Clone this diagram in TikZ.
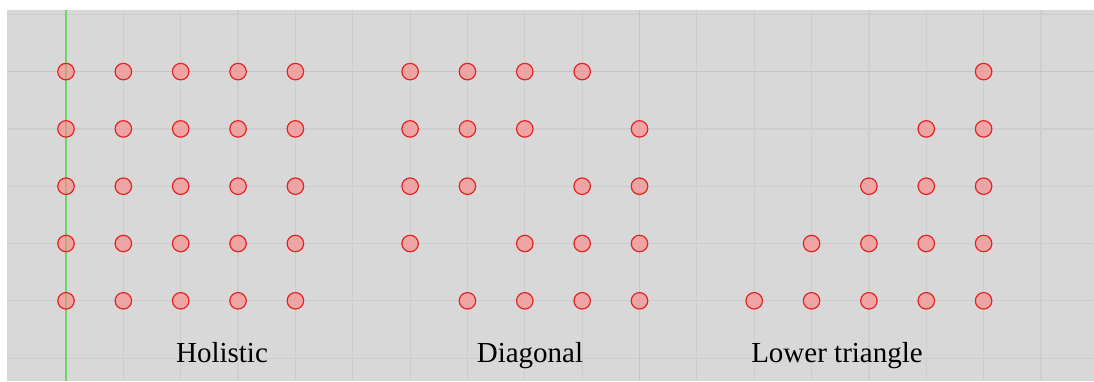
\documentclass[tikz,border=0pt]{standalone}
\usepackage{fontspec}
\setmainfont{Liberation Serif}
\definecolor{bg}{RGB}{216,216,216}
\definecolor{gridc}{RGB}{206,206,206}
\definecolor{gridd}{RGB}{198,198,198}
\definecolor{axisg}{RGB}{105,214,95}
\definecolor{dotfill}{RGB}{255,135,135}
\definecolor{dotline}{RGB}{228,35,35}
\begin{document}
\begin{tikzpicture}[x=1pt,y=-1pt,
  gridline/.style={gridc,line width=1.2pt},
  majorline/.style={gridd,line width=1.4pt},
  axisline/.style={axisg,line width=2.8pt},
  dot/.style={circle,draw=dotline,line width=1.2pt,fill=dotfill,fill opacity=0.62,draw opacity=1,minimum size=16.5pt,inner sep=0pt},
  lbl/.style={font=\fontsize{29}{34}\selectfont,anchor=base,text=black,inner sep=0pt}]
\useasboundingbox (0,0) rectangle (1094,381);
\fill[bg] (7,10) rectangle (1094,381);
% grid
\foreach \k in {0,...,17} \draw[gridline] ({66+57.35*\k},10) -- ({66+57.35*\k},381);
\foreach \k in {0,...,6} \draw[gridline] (7,{14.3+57.3*\k}) -- (1094,{14.3+57.3*\k});
\draw[majorline] (7,71.6) -- (1094,71.6);
\draw[majorline] ({66+57.35*10},10) -- ({66+57.35*10},381);
% axis
\coordinate (axtop) at (66,10);
\coordinate (axbot) at (66,381);
\draw[axisline] (axtop) -- (axbot);
% Holistic
\foreach \r in {1,...,5} \foreach \c in {1,...,5}
  \node[dot] (h\r\c) at ({66+57.35*(\c-1)},{14.3+57.3*\r}) {};
% Diagonal
\foreach \r in {1,...,5} \foreach \c in {1,...,5} {
  \ifnum\numexpr\r+\c\relax=6 \else
  \node[dot] (d\r\c) at ({66+57.35*(\c+5)},{14.3+57.3*\r}) {};
  \fi}
% Lower triangle
\foreach \r in {1,...,5} \foreach \c in {1,...,5} {
  \ifnum\numexpr\r+\c\relax<6 \else
  \node[dot] (l\r\c) at ({66+57.35*(\c+11)},{14.3+57.3*\r}) {};
  \fi}
% labels
\node[lbl] (t1) at (222,362) {Holistic};
\node[lbl] (t2) at (530,362) {Diagonal};
\node[lbl] (t3) at (837,362) {Lower triangle};
\end{tikzpicture}
\end{document}
